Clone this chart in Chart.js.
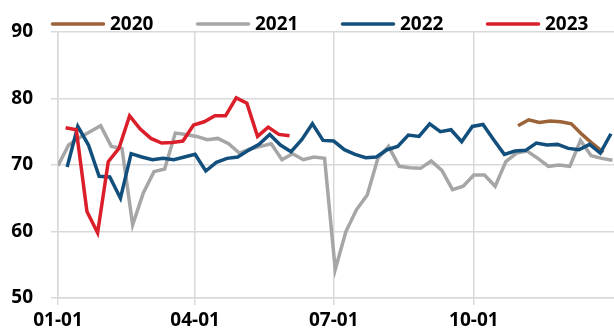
<!DOCTYPE html>
<html>
<head>
<meta charset="utf-8">
<script src="https://cdn.jsdelivr.net/npm/chart.js@4/dist/chart.umd.min.js"></script>
<style>
  html, body { margin: 0; padding: 0; background: #ffffff; }
  #wrap { width: 614px; height: 332px; }
</style>
</head>
<body>
<div id="wrap"><canvas id="chart" width="614" height="332"></canvas></div>
<script>
// Weekly index readings, one array per year; each series starts on its first weekly date (MM-DD)
const seriesNames  = ['2020', '2021', '2022', '2023'];
const seriesColors = ['#9C6238', '#A6A6A6', '#134F7D', '#DA1F2A'];
const firstDates   = ['10-30', '01-01', '01-07', '01-06'];

const values2020 = [75.9, 76.8, 76.4, 76.6, 76.5, 76.2, 74.6, 73.2, 71.9];

const values2021 = [
  69.9, 73.0, 74.1, 75.0, 75.9, 72.8, 72.5, 61.0, 65.8, 69.0,
  69.4, 74.8, 74.6, 74.3, 73.8, 74.0, 73.2, 71.8, 72.4, 72.8,
  73.2, 70.8, 71.7, 70.8, 71.2, 71.0, 54.3, 60.0, 63.3, 65.5,
  71.0, 72.8, 69.8, 69.6, 69.5, 70.6, 69.2, 66.3, 66.8, 68.5,
  68.5, 66.8, 70.5, 71.8, 72.1, 71.0, 69.8, 70.0, 69.8, 73.7,
  71.4, 71.0, 70.7
];

const values2022 = [
  69.7, 75.8, 73.0, 68.3, 68.2, 65.0, 71.7, 71.2, 70.8, 71.0,
  70.8, 71.2, 71.6, 69.1, 70.4, 71.0, 71.2, 72.2, 73.1, 74.6,
  73.0, 72.0, 73.8, 76.2, 73.7, 73.6, 72.3, 71.6, 71.1, 71.2,
  72.3, 72.8, 74.5, 74.3, 76.2, 75.0, 75.3, 73.5, 75.8, 76.1,
  73.8, 71.6, 72.1, 72.2, 73.3, 73.0, 73.1, 72.5, 72.3, 73.1,
  71.8, 74.7
];

const values2023 = [
  75.6, 75.3, 63.0, 59.8, 70.5, 72.5, 77.4, 75.4, 74.0, 73.3,
  73.4, 73.6, 76.0, 76.5, 77.4, 77.4, 80.1, 79.3, 74.3, 75.7,
  74.6, 74.4
];

const xTickLabels = ['01-01', '04-01', '07-01', '10-01'];
const yTickValues = [50, 60, 70, 80, 90];

// Day of year (0-based) for an MM-DD string, on a common-year calendar
const monthStart = [0, 31, 59, 90, 120, 151, 181, 212, 243, 273, 304, 334];
function dayOfYear(mmdd) {
  const [m, d] = mmdd.split('-').map(Number);
  return monthStart[m - 1] + d - 1;
}

const allValues = [values2020, values2021, values2022, values2023];
const xTickDays = xTickLabels.map(dayOfYear);

function weeklyPoints(values, start) {
  const d0 = dayOfYear(start);
  return values.map((v, i) => ({ x: d0 + 7 * i, y: v }));
}

const datasets = seriesNames.map((name, i) => ({
  label: name,
  data: weeklyPoints(allValues[i], firstDates[i]),
  borderColor: seriesColors[i],
  backgroundColor: seriesColors[i],
  borderWidth: 3.5,
  pointRadius: 0,
  tension: 0,
  fill: false,
  order: seriesNames.length - 1 - i
}));

const FONT = '"Open Sans", "DejaVu Sans", sans-serif';
Chart.defaults.font.family = FONT;

// Legend row: a colour bar followed by the year label
const lineLegend = {
  id: 'lineLegend',
  afterDraw(chart) {
    const ctx = chart.ctx;
    ctx.save();
    ctx.font = 'bold 19px ' + FONT;
    ctx.textBaseline = 'alphabetic';
    ctx.textAlign = 'left';
    seriesNames.forEach((name, i) => {
      const x0 = 51 + 145 * i;
      const y = 24;
      ctx.strokeStyle = seriesColors[i];
      ctx.lineWidth = 3.5;
      ctx.lineCap = 'round';
      ctx.beginPath();
      ctx.moveTo(x0 + 1.5, y);
      ctx.lineTo(x0 + 52.5, y);
      ctx.stroke();
      ctx.fillStyle = '#000000';
      ctx.fillText(name, x0 + 59, 30);
    });
    ctx.restore();
  }
};

const gridColor = '#D9D9D9';

new Chart(document.getElementById('chart'), {
  type: 'line',
  data: { datasets },
  plugins: [lineLegend],
  options: {
    responsive: false,
    devicePixelRatio: 1,
    animation: false,
    layout: { padding: { top: 32, right: 0, bottom: 0, left: 0 } },
    plugins: {
      legend: { display: false },
      tooltip: { enabled: false }
    },
    scales: {
      x: {
        type: 'linear',
        min: 0,
        max: 365,
        afterBuildTicks(scale) {
          scale.ticks = xTickDays.map(v => ({ value: v }));
        },
        afterFit(scale) { scale.height = 34; },
        ticks: {
          autoSkip: false,
          maxRotation: 0,
          padding: 4,
          color: '#000000',
          font: { size: 19, weight: 'bold' },
          callback(value) {
            const k = xTickDays.indexOf(value);
            return k >= 0 ? xTickLabels[k] : '';
          }
        },
        grid: { color: gridColor, lineWidth: 1.5, tickLength: 7, tickColor: gridColor },
        border: { display: true, color: gridColor, width: 1.5 }
      },
      y: {
        min: 50,
        max: 90,
        afterBuildTicks(scale) {
          scale.ticks = yTickValues.map(v => ({ value: v }));
        },
        afterFit(scale) { scale.width = 58; },
        ticks: {
          padding: 18,
          color: '#000000',
          font: { size: 19, weight: 'bold' }
        },
        grid: { color: gridColor, lineWidth: 1.5, tickLength: 7, tickColor: gridColor },
        border: { display: true, color: gridColor, width: 1.5 }
      }
    }
  }
});
</script>
</body>
</html>
